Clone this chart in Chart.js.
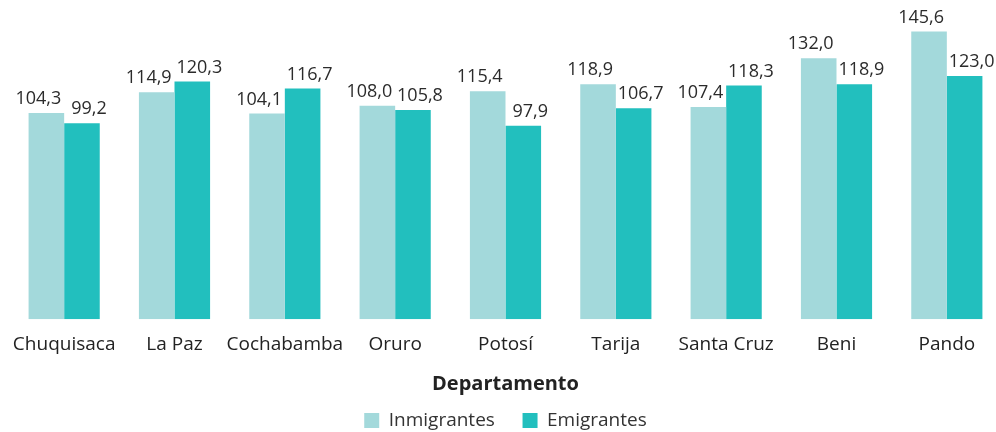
<!DOCTYPE html>
<html>
<head>
<meta charset="utf-8">
<script src="https://cdn.jsdelivr.net/npm/chart.js@4"></script>
<style>
  html, body { margin: 0; padding: 0; background: #fff; overflow: hidden; }
  #wrap { position: relative; width: 1002px; height: 440px; }
</style>
</head>
<body>
<div id="wrap"><canvas id="myChart"></canvas></div>
<script>
// ********** data ************
const departamentos = ["Chuquisaca", "La Paz", "Cochabamba", "Oruro", "Potosí", "Tarija", "Santa Cruz", "Beni", "Pando"];
const inmigrantes = [104.3, 114.9, 104.1, 108.0, 115.4, 118.9, 107.4, 132.0, 145.6];
const emigrantes = [99.2, 120.3, 116.7, 105.8, 97.9, 106.7, 118.3, 118.9, 123.0];

const fontFamily = "'Open Sans', 'Noto Sans', sans-serif";

// ********** value labels ************
const valueLabels = {
  id: "valueLabels",
  afterDatasetsDraw(chart) {
    const ctx = chart.ctx;
    ctx.save();
    ctx.font = "18px " + fontFamily;
    ctx.fillStyle = "#2b2b2b";
    ctx.textAlign = "center";
    ctx.textBaseline = "bottom";
    chart.data.datasets.forEach((ds, i) => {
      const meta = chart.getDatasetMeta(i);
      const shift = i === 0 ? -8 : 7;
      meta.data.forEach((bar, j) => {
        const txt = ds.data[j].toFixed(1).replace(".", ",");
        ctx.fillText(txt, bar.x + shift, bar.y - 5);
      });
    });
    ctx.restore();
  },
};

const ctx = document.getElementById("myChart");
const myChart = new Chart(ctx, {
  type: "bar",
  data: {
    labels: departamentos,
    datasets: [
      {
        label: "Inmigrantes",
        data: inmigrantes,
        backgroundColor: "#a3d9db",
        categoryPercentage: 0.645,
        barPercentage: 1,
      },
      {
        label: "Emigrantes",
        data: emigrantes,
        backgroundColor: "#22bfbe",
        categoryPercentage: 0.645,
        barPercentage: 1,
      },
    ],
  },
  options: {
    responsive: true,
    maintainAspectRatio: false,
    animation: false,
    layout: { padding: { top: 3, left: 9, right: 0, bottom: 0 } },
    scales: {
      x: {
        grid: { display: false, drawTicks: false },
        border: { display: false },
        ticks: {
          color: "#222",
          font: { family: fontFamily, size: 19 },
          padding: 14,
          maxRotation: 0,
          autoSkip: false,
        },
        title: {
          display: true,
          text: "Departamento",
          color: "#222",
          font: { family: fontFamily, size: 20, weight: "bold" },
          padding: { top: 2, bottom: 12 },
        },
        // labels fit inside their category, no side padding wanted
        afterFit(scale) {
          scale.paddingLeft = 0;
          scale.paddingRight = 0;
        },
      },
      y: {
        display: false,
        min: 0,
        max: 160,
      },
    },
    plugins: {
      legend: {
        position: "bottom",
        labels: {
          boxWidth: 15,
          boxHeight: 15,
          color: "#333",
          padding: 3,
          font: { family: fontFamily, size: 19 },
          generateLabels(chart) {
            const items = Chart.defaults.plugins.legend.labels.generateLabels(chart);
            // wider gap between the two legend items
            items[0].text = items[0].text + "     ";
            return items;
          },
        },
      },
      tooltip: { enabled: false },
    },
  },
  plugins: [valueLabels],
});
</script>
</body>
</html>
